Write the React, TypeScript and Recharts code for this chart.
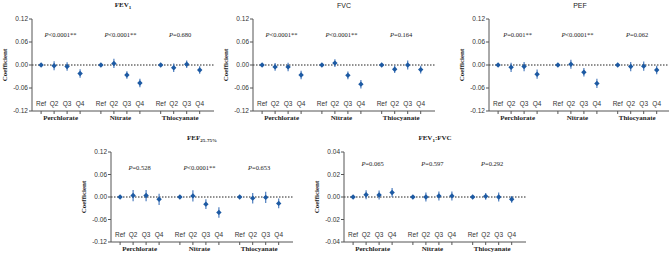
import React from 'react';
import {
  ComposedChart,
  Scatter,
  ErrorBar,
  XAxis,
  YAxis,
  ReferenceLine
} from 'recharts';

// categories
const quartiles = ['Ref', 'Q2', 'Q3', 'Q4'];
const exposures = ['Perchlorate', 'Nitrate', 'Thiocyanate'];
// x slot of each quartile (groups separated by a wider gap)
const groupStarts = [1, 5.6, 10.2];

// coefficients (Ref, Q2, Q3, Q4 for perchlorate, nitrate, thiocyanate)
const fev1Est = [0, -0.002, -0.004, -0.022, 0, 0.004, -0.026, -0.047, 0, -0.007, 0.002, -0.013];
const fev1Err = [0.001, 0.012, 0.011, 0.011, 0.001, 0.012, 0.010, 0.011, 0.001, 0.011, 0.010, 0.010];
const fvcEst = [0, -0.005, -0.005, -0.026, 0, 0.005, -0.027, -0.050, 0, -0.011, 0, -0.012];
const fvcErr = [0.001, 0.010, 0.011, 0.011, 0.001, 0.010, 0.010, 0.011, 0.001, 0.010, 0.012, 0.010];
const pefEst = [0, -0.006, -0.004, -0.024, 0, 0.002, -0.019, -0.048, 0, -0.004, -0.003, -0.013];
const pefErr = [0.001, 0.012, 0.012, 0.012, 0.001, 0.012, 0.011, 0.012, 0.001, 0.012, 0.012, 0.011];
const fefEst = [0, 0.004, 0.004, -0.006, 0, 0.003, -0.019, -0.041, 0, -0.003, -0.001, -0.017];
const fefErr = [0.001, 0.015, 0.015, 0.015, 0.001, 0.015, 0.013, 0.014, 0.001, 0.014, 0.015, 0.013];
const ratioEst = [0, 0.002, 0.0018, 0.004, 0, 0, 0.001, 0.001, 0, 0.0006, 0, -0.002];
const ratioErr = [0.0003, 0.004, 0.004, 0.004, 0.0003, 0.004, 0.004, 0.004, 0.0003, 0.003, 0.004, 0.003];

// p for trend
const fev1P = ['<0.0001**', '<0.0001**', '=0.680'];
const fvcP = ['<0.0001**', '<0.0001**', '=0.164'];
const pefP = ['=0.001**', '<0.0001**', '=0.062'];
const fefP = ['=0.528', '<0.0001**', '=0.653'];
const ratioP = ['=0.065', '=0.597', '=0.292'];

const ticksWide = [-0.12, -0.06, 0, 0.06, 0.12];
const ticksNarrow = [-0.04, -0.02, 0, 0.02, 0.04];

const xPos = groupStarts.flatMap((s) => quartiles.map((_, i) => s + i));
const groupCenters = groupStarts.map((s) => s + 1.5);
const xLabel = (v: number) => quartiles[xPos.findIndex((p) => Math.abs(p - v) < 0.01) % 4];
const groupLabel = (v: number) => exposures[groupCenters.findIndex((p) => Math.abs(p - v) < 0.01)];

const POINT = '#1d5aa3';
const BAR = '#4f7fbf';
const AXIS = '#555';

const QuartileTick = (props: any) => {
  const { x, y, payload } = props;
  return (
    <text x={x} y={y - 8} textAnchor="middle" fontSize={6.5} fill="#333" fontFamily="Liberation Sans, Arial">
      {xLabel(payload.value)}
    </text>
  );
};

const GroupTick = (props: any) => {
  const { x, y, payload } = props;
  return (
    <text x={x} y={y + 6} textAnchor="middle" fontSize={7} fontWeight="bold" fill="#222" fontFamily="Liberation Serif, serif">
      {groupLabel(payload.value)}
    </text>
  );
};

const Diamond = (props: any) => {
  const { cx, cy } = props;
  if (cx == null || cy == null) return null;
  const r = 2.7;
  return <path d={`M${cx},${cy - r}L${cx + r},${cy}L${cx},${cy + r}L${cx - r},${cy}Z`} fill={POINT} />;
};

const PLabel = (props: any) => {
  const { cx, cy, payload } = props;
  return (
    <text x={cx} y={cy} textAnchor="middle" fontSize={6.5} fill="#222" fontFamily="Liberation Serif, serif">
      <tspan fontStyle="italic">P</tspan>
      <tspan>{payload.label}</tspan>
    </text>
  );
};

interface PanelProps {
  left: number;
  top: number;
  plotHeight: number;
  title: React.ReactNode;
  est: number[];
  err: number[];
  pvals: string[];
  yTicks: number[];
  pY: number;
}

function Panel({ left, top, plotHeight, title, est, err, pvals, yTicks, pY }: PanelProps) {
  const points = est.map((v, i) => ({ x: xPos[i], y: v, err: err[i] }));
  const notes = pvals.map((p, i) => ({ x: groupCenters[i], y: pY, label: p }));
  const height = 19 + plotHeight + 14;
  const yMax = yTicks[yTicks.length - 1];

  return (
    <div style={{ position: 'absolute', left, top, width: 216, height }}>
      <div
        style={{
          position: 'absolute',
          left: 32,
          top: 1,
          width: 182,
          textAlign: 'center',
          fontSize: 7,
          fontWeight: 'bold',
          fontFamily: 'Liberation Serif, serif',
          color: '#222',
          lineHeight: '9px'
        }}
      >
        {title}
      </div>
      <ComposedChart width={216} height={height} margin={{ top: 19, right: 2, bottom: 1, left: 0 }}>
        <XAxis
          type="number"
          dataKey="x"
          domain={[0.3, 14.3]}
          ticks={xPos}
          interval={0}
          tick={<QuartileTick />}
          tickSize={3}
          tickMargin={0}
          height={3}
          stroke={AXIS}
          allowDataOverflow
        />
        <XAxis
          xAxisId="g"
          type="number"
          dataKey="x"
          domain={[0.3, 14.3]}
          ticks={groupCenters}
          interval={0}
          axisLine={false}
          tickLine={false}
          tickSize={0}
          tickMargin={0}
          height={10}
          tick={<GroupTick />}
          allowDataOverflow
        />
        <YAxis
          type="number"
          domain={[-yMax, yMax]}
          ticks={yTicks}
          interval={0}
          width={32}
          tickSize={3}
          tickMargin={1}
          stroke={AXIS}
          tickFormatter={(v: number) => v.toFixed(2)}
          tick={{ fontSize: 6.5, fill: '#333', fontFamily: 'Liberation Sans, Arial' }}
          label={{
            content: (p: any) => {
              const vb = p.viewBox;
              const cx = vb.x + vb.width - 27;
              const cy = vb.y + vb.height / 2;
              return (
                <text
                  x={cx}
                  y={cy}
                  transform={`rotate(-90 ${cx} ${cy})`}
                  textAnchor="middle"
                  dominantBaseline="middle"
                  fontSize={7}
                  fontWeight="bold"
                  fill="#222"
                  fontFamily="Liberation Serif, serif"
                >
                  Coefficient
                </text>
              );
            }
          }}
        />
        <ReferenceLine y={0} stroke="#222" strokeDasharray="1.5 1.5" strokeWidth={1} />
        <Scatter data={points} dataKey="y" fill={POINT} shape={<Diamond />} legendType="none" isAnimationActive={false}>
          <ErrorBar dataKey="err" direction="y" width={0} stroke={BAR} strokeWidth={1.2} />
        </Scatter>
        <Scatter xAxisId="g" data={notes} dataKey="y" shape={<PLabel />} isAnimationActive={false} />
      </ComposedChart>
    </div>
  );
}

export default function App() {
  return (
    <div
      style={{
        position: 'absolute',
        left: 0,
        top: 0,
        width: 669,
        height: 254,
        overflow: 'hidden',
        background: '#fff'
      }}
    >
      <Panel left={0} top={0} plotHeight={92} title={<span>FEV<sub style={{ fontSize: 5 }}>1</sub></span>}
        est={fev1Est} err={fev1Err} pvals={fev1P} yTicks={ticksWide} pY={0.074} />
      <Panel left={221} top={0} plotHeight={92} title={<span style={{ fontFamily: 'Liberation Sans, Arial', fontWeight: 'normal' }}>FVC</span>}
        est={fvcEst} err={fvcErr} pvals={fvcP} yTicks={ticksWide} pY={0.074} />
      <Panel left={457} top={0} plotHeight={92} title={<span style={{ fontFamily: 'Liberation Sans, Arial', fontWeight: 'normal' }}>PEF</span>}
        est={pefEst} err={pefErr} pvals={pefP} yTicks={ticksWide} pY={0.074} />
      <Panel left={79} top={133} plotHeight={90} title={<span>FEF<sub style={{ fontSize: 5 }}>25-75%</sub></span>}
        est={fefEst} err={fefErr} pvals={fefP} yTicks={ticksWide} pY={0.072} />
      <Panel left={312} top={133} plotHeight={90} title={<span>FEV<sub style={{ fontSize: 5 }}>1</sub>:FVC</span>}
        est={ratioEst} err={ratioErr} pvals={ratioP} yTicks={ticksNarrow} pY={0.028} />
    </div>
  );
}
